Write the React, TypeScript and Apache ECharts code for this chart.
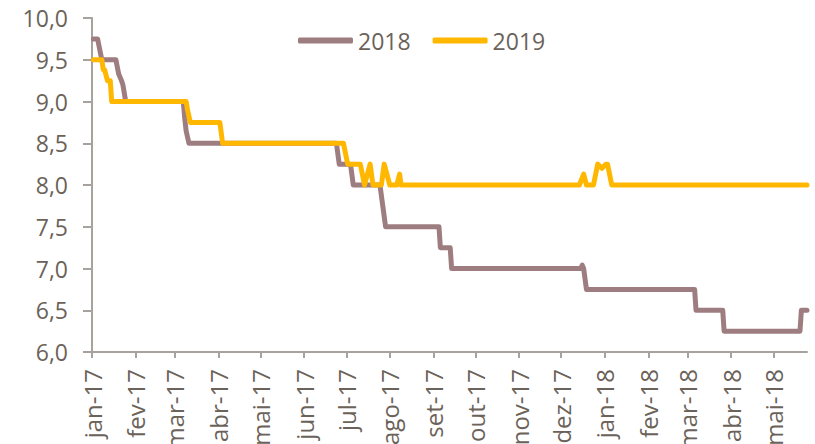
import React, { useEffect, useRef } from "react";
import * as echarts from "echarts";

const monthNames = ["jan", "fev", "mar", "abr", "mai", "jun", "jul", "ago", "set", "out", "nov", "dez"];
const startDate = "2017-01-01";
const endDate = "2018-05-25";

const seriesNames = ["2018", "2019"];

const dates2018 = [
  "2017-01-02", "2017-01-05", "2017-01-07", "2017-01-08", "2017-01-18", "2017-01-20", "2017-01-22", "2017-01-23", "2017-01-25",
  "2017-03-07", "2017-03-08", "2017-03-09", "2017-03-11",
  "2017-06-24", "2017-06-26", "2017-07-04", "2017-07-06",
  "2017-07-25", "2017-07-27", "2017-07-29",
  "2017-09-05", "2017-09-06", "2017-09-13", "2017-09-14",
  "2017-12-15", "2017-12-16", "2017-12-17", "2017-12-19",
  "2018-03-06", "2018-03-07", "2018-03-26", "2018-03-27",
  "2018-05-20", "2018-05-21", "2018-05-25",
];
const values2018 = [
  9.75, 9.75, 9.58, 9.5, 9.5, 9.33, 9.25, 9.2, 9.0,
  9.0, 8.8, 8.65, 8.5,
  8.5, 8.25, 8.25, 8.0,
  8.0, 7.75, 7.5,
  7.5, 7.25, 7.25, 7.0,
  7.0, 7.04, 7.0, 6.75,
  6.75, 6.5, 6.5, 6.25,
  6.25, 6.5, 6.5,
];

const dates2019 = [
  "2017-01-02", "2017-01-08", "2017-01-09", "2017-01-10", "2017-01-12", "2017-01-14", "2017-01-15",
  "2017-03-09", "2017-03-10", "2017-03-12", "2017-04-02", "2017-04-04",
  "2017-06-29", "2017-07-02", "2017-07-11", "2017-07-14", "2017-07-18", "2017-07-20",
  "2017-07-26", "2017-07-28", "2017-08-01", "2017-08-06", "2017-08-08", "2017-08-09",
  "2017-12-14", "2017-12-17", "2017-12-19", "2017-12-24", "2017-12-27", "2017-12-30",
  "2018-01-02", "2018-01-03", "2018-01-06", "2018-05-25",
];
const values2019 = [
  9.5, 9.5, 9.38, 9.38, 9.25, 9.25, 9.0,
  9.0, 8.9, 8.75, 8.75, 8.5,
  8.5, 8.25, 8.25, 8.0, 8.25, 8.0,
  8.0, 8.25, 8.0, 8.0, 8.13, 8.0,
  8.0, 8.13, 8.0, 8.0, 8.25, 8.2,
  8.25, 8.25, 8.0, 8.0,
];

function buildCategories(from: string, to: string): string[] {
  const out: string[] = [];
  const a = Date.parse(from + "T00:00:00Z");
  const b = Date.parse(to + "T00:00:00Z");
  for (let t = a; t <= b; t += 86400000) {
    out.push(new Date(t).toISOString().slice(0, 10));
  }
  return out;
}

const TEXT = "#6b625a";
const AXIS = "#a7a29d";
const FONT = "Open Sans";

export default function App() {
  const ref = useRef<HTMLDivElement>(null);
  useEffect(() => {
    if (!ref.current) return;
    const chart = echarts.init(ref.current, undefined, { renderer: "svg" });
    const categories = buildCategories(startDate, endDate);
    const isMonthStart = (_i: number, v: string) => v.slice(8) === "01";
    chart.setOption({
      animation: false,
      backgroundColor: "#ffffff",
      grid: { left: 92, right: 8, top: 18, bottom: 92, containLabel: false, outerBoundsMode: "none" },
      legend: {
        data: seriesNames,
        left: 298,
        top: 29,
        padding: 0,
        icon: "roundRect",
        itemWidth: 55,
        itemHeight: 6,
        itemGap: 22,
        textStyle: { color: TEXT, fontFamily: FONT, fontSize: 23 },
      },
      xAxis: {
        type: "category",
        data: categories,
        boundaryGap: false,
        axisLine: { lineStyle: { color: AXIS, width: 2 } },
        axisTick: { show: true, interval: isMonthStart, length: 6, lineStyle: { color: AXIS, width: 2 } },
        axisLabel: {
          interval: isMonthStart,
          rotate: 90,
          margin: 17,
          color: TEXT,
          fontFamily: FONT,
          fontSize: 24,
          formatter: (v: string) => monthNames[parseInt(v.slice(5, 7), 10) - 1] + "-" + v.slice(2, 4),
        },
        splitLine: { show: false },
      },
      yAxis: {
        type: "value",
        min: 6,
        max: 10,
        interval: 0.5,
        axisLine: { show: true, lineStyle: { color: AXIS, width: 2 } },
        axisTick: { show: true, length: 9, lineStyle: { color: AXIS, width: 2 } },
        axisLabel: {
          margin: 24,
          color: TEXT,
          fontFamily: FONT,
          fontSize: 23,
          formatter: (v: number) => v.toFixed(1).replace(".", ","),
        },
        splitLine: { show: false },
      },
      series: [
        {
          name: seriesNames[0],
          type: "line",
          showSymbol: false,
          color: "#9e7d80",
          lineStyle: { width: 5, cap: "round", join: "round" },
          data: dates2018.map((d, i) => [d, values2018[i]]),
        },
        {
          name: seriesNames[1],
          type: "line",
          showSymbol: false,
          color: "#ffb700",
          lineStyle: { width: 5, cap: "round", join: "round" },
          data: dates2019.map((d, i) => [d, values2019[i]]),
        },
      ],
    });
    return () => chart.dispose();
  }, []);
  return <div ref={ref} style={{ position: "fixed", left: 0, top: 0, width: 815, height: 444 }} />;
}
